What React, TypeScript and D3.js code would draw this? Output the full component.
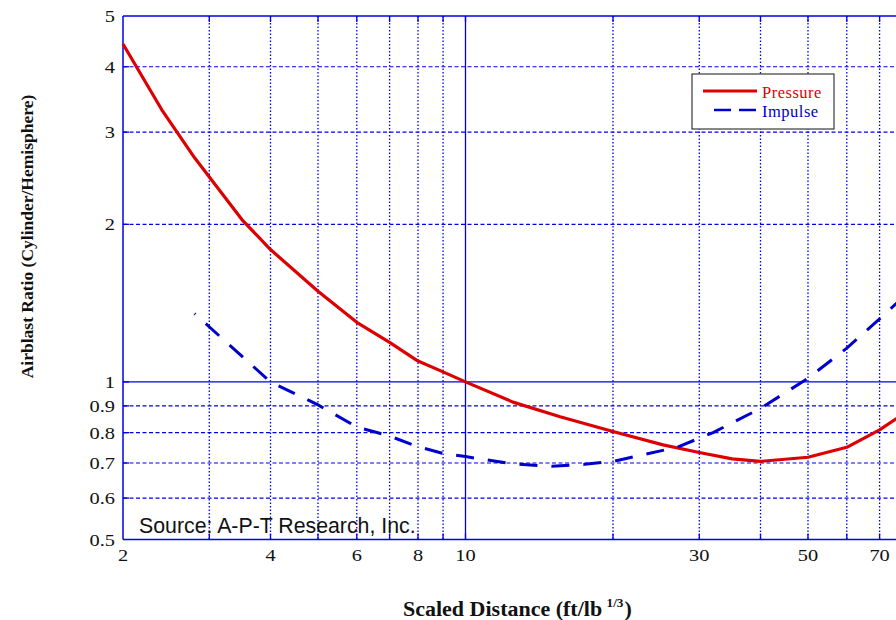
import * as d3 from 'd3';

// values (log-log), joined by straight segments
const pressureX = [2, 2.4, 2.8, 3.5, 4, 5, 6, 7, 8, 9, 10, 12.5, 15.6, 20, 25.3, 30, 35, 40, 50, 60, 70, 80];
const pressureY = [4.42, 3.31, 2.68, 2.04, 1.79, 1.49, 1.3, 1.19, 1.096, 1.045, 1.0, 0.915, 0.858, 0.804, 0.758, 0.733, 0.713, 0.705, 0.718, 0.75, 0.81, 0.88];

const impulseX = [2.8, 4, 5, 6, 7, 8, 9, 10, 12.5, 15, 17.5, 20, 27, 32, 40, 50, 60, 70, 80];
const impulseY = [1.35, 1.0, 0.904, 0.82, 0.788, 0.752, 0.73, 0.72, 0.697, 0.69, 0.696, 0.705, 0.75, 0.8, 0.89, 1.016, 1.16, 1.32, 1.48];

const xGrid = [3, 4, 5, 6, 7, 8, 9, 20, 30, 40, 50, 60, 70, 80, 90];
const yGrid = [0.6, 0.7, 0.8, 0.9, 2, 3, 4];
const xTicks = [2, 4, 6, 8, 10, 30, 50, 70];
const yTicks = [0.5, 0.6, 0.7, 0.8, 0.9, 1, 2, 3, 4, 5];

const W = 896;
const H = 620;
const BLUE = '#0000e6';
const serif = '"Liberation Serif", "Times New Roman", serif';

export default function App() {
  const x = d3.scaleLog().domain([2, 100]).range([123, 123 + 490 * Math.log10(50)]);
  const y = d3.scaleLog().domain([0.5, 5]).range([539.5, 16]);
  const left = x(2);
  const right = x(100);
  const top = y(5);
  const bottom = y(0.5);

  const line = d3.line<[number, number]>()
    .x(d => x(d[0]))
    .y(d => y(d[1]));

  const pressure = pressureX.map((v, i) => [v, pressureY[i]] as [number, number]);
  const impulse = impulseX.map((v, i) => [v, impulseY[i]] as [number, number]);

  return (
    <div style={{ position: 'fixed', left: 0, top: 0, width: W, height: H, overflow: 'hidden', background: '#fff' }}>
      <svg width={W} height={H} style={{ display: 'block' }}>
        {/* grid */}
        {xGrid.map(v => (
          <line key={'gx' + v} x1={x(v)} x2={x(v)} y1={top} y2={bottom}
            stroke={BLUE} strokeWidth={1.3} strokeDasharray="1.5,2" />
        ))}
        {yGrid.map(v => (
          <line key={'gy' + v} x1={left} x2={right} y1={y(v)} y2={y(v)}
            stroke={BLUE} strokeWidth={1.2} strokeDasharray="4,2.5" />
        ))}
        <line x1={x(10)} x2={x(10)} y1={top} y2={bottom} stroke={BLUE} strokeWidth={1.3} />
        <line x1={left} x2={right} y1={y(1)} y2={y(1)} stroke={BLUE} strokeWidth={1.3} />

        {/* frame */}
        <line x1={left} x2={right} y1={top} y2={top} stroke={BLUE} strokeWidth={1.5} />
        <line x1={left} x2={right} y1={bottom} y2={bottom} stroke={BLUE} strokeWidth={1.5} />
        <line x1={left} x2={left} y1={top} y2={bottom} stroke={BLUE} strokeWidth={1.5} />

        {/* inward ticks */}
        {[...xGrid, 10].map(v => (
          <g key={'tx' + v}>
            <line x1={x(v)} x2={x(v)} y1={bottom} y2={bottom - 6} stroke={BLUE} strokeWidth={1.3} />
            <line x1={x(v)} x2={x(v)} y1={top} y2={top + 6} stroke={BLUE} strokeWidth={1.3} />
          </g>
        ))}
        {[...yGrid, 1].map(v => (
          <line key={'ty' + v} x1={left} x2={left + 6} y1={y(v)} y2={y(v)} stroke={BLUE} strokeWidth={1.3} />
        ))}

        {/* tick labels */}
        {xTicks.map(v => (
          <text key={'lx' + v} transform={`translate(${x(v)},561) scale(1.2,1)`} textAnchor="middle"
            fontFamily={serif} fontSize={17} fill="#111">{v}</text>
        ))}
        {yTicks.map(v => (
          <text key={'ly' + v} transform={`translate(115,${y(v) + 6}) scale(1.2,1)`} textAnchor="end"
            fontFamily={serif} fontSize={17} fill="#111">{v}</text>
        ))}

        {/* curves */}
        <path d={line(pressure) || ''} fill="none" stroke="#dd0000" strokeWidth={3.2} strokeLinejoin="round" />
        <path d={line(impulse) || ''} fill="none" stroke="#0000cc" strokeWidth={3} strokeDasharray="18,14" strokeDashoffset={17} />

        {/* legend */}
        <rect x={692} y={74} width={142} height={55} fill="#fff" stroke="#111" strokeWidth={1} />
        <line x1={703} x2={757} y1={91} y2={91} stroke="#dd0000" strokeWidth={3} />
        <text x={762} y={98} fontFamily={serif} fontSize={16.5} fill="#dd0000" letterSpacing={0.5}>Pressure</text>
        <line x1={714} x2={756} y1={110} y2={110} stroke="#0000cc" strokeWidth={2.5} strokeDasharray="17,8" />
        <text x={762} y={117} fontFamily={serif} fontSize={16.5} fill="#0000cc" letterSpacing={0.5}>Impulse</text>

        {/* source note */}
        <text x={139} y={533} fontFamily={'"Liberation Sans", Arial, sans-serif'} fontSize={21.3} fill="#111">Source: A-P-T Research, Inc.</text>

        {/* axis titles */}
        <text transform="translate(403,616) scale(1.1,1)" fontFamily={serif} fontSize={20} fontWeight="bold" fill="#111">
          Scaled Distance (ft/lb
          <tspan dx={4} dy={-9} fontSize={12}>1/3</tspan>
          <tspan dx={1} dy={9}>)</tspan>
        </text>
        <text transform="translate(33,236.5) rotate(-90)" textAnchor="middle" fontFamily={serif} fontSize={17.5} fontWeight="bold" fill="#111">
          Airblast Ratio (Cylinder/Hemisphere)
        </text>
      </svg>
    </div>
  );
}
